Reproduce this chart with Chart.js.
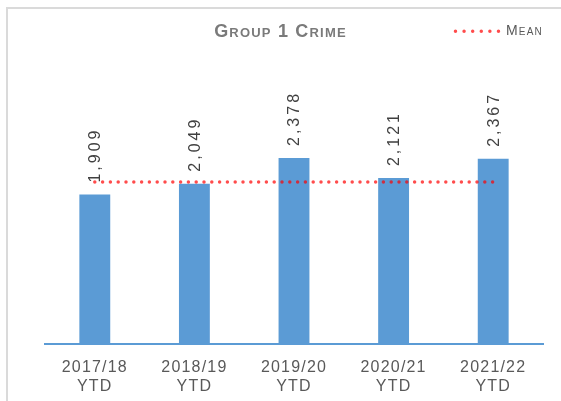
<!DOCTYPE html>
<html>
<head>
<meta charset="utf-8">
<script src="https://cdn.jsdelivr.net/npm/chart.js@4"></script>
<style>
  html, body { margin: 0; padding: 0; background: #fff; }
  #wrap { position: relative; width: 561px; height: 401px; overflow: hidden; }
  #frame {
    position: absolute; left: 6px; top: 7px; width: 600px; height: 500px;
    border-left: 2px solid #dadada; border-top: 2px solid #dadada;
  }
  #chartBox { position: absolute; left: 0; top: 0; width: 561px; height: 401px; }
</style>
</head>
<body>
<div id="wrap">
  <div id="frame"></div>
  <div id="chartBox"><canvas id="crimeChart"></canvas></div>
</div>
<script>
const years = [
  ["2017/18", "YTD"],
  ["2018/19", "YTD"],
  ["2019/20", "YTD"],
  ["2020/21", "YTD"],
  ["2021/22", "YTD"],
];
const crimeCounts = [1909, 2049, 2378, 2121, 2367];
const meanValues = [2072, 2072, 2072, 2072, 2072];

const FONT = "'Liberation Sans', Arial, sans-serif";
const barColor = "#5b9bd5";
const meanColor = "rgba(255, 0, 0, 0.7)";

// canvas letter spacing gets reset on resize, so set it before layout and draw
const spacing = {
  id: "spacing",
  beforeUpdate(chart) {
    chart.ctx.letterSpacing = "1.2px";
  },
  beforeDraw(chart) {
    chart.ctx.letterSpacing = "1.2px";
  },
};

const barLabels = {
  id: "barLabels",
  afterDatasetsDraw(chart) {
    const ctx = chart.ctx;
    const meta = chart.getDatasetMeta(0);
    ctx.save();
    ctx.font = "16px " + FONT;
    ctx.fillStyle = "#404040";
    ctx.letterSpacing = "3px";
    ctx.textAlign = "left";
    ctx.textBaseline = "middle";
    meta.data.forEach((bar, i) => {
      ctx.save();
      ctx.translate(bar.x + 1, bar.y - 12);
      ctx.rotate(-Math.PI / 2);
      ctx.fillText(crimeCounts[i].toLocaleString("en-GB"), 0, 0);
      ctx.restore();
    });
    ctx.restore();
  },
};

new Chart(document.querySelector("#crimeChart"), {
  data: {
    labels: years,
    datasets: [
      {
        type: "bar",
        label: "Group 1 Crime",
        data: crimeCounts,
        backgroundColor: barColor,
        categoryPercentage: 1,
        barPercentage: 0.31,
        order: 1,
      },
      {
        type: "line",
        label: "Mean",
        data: meanValues,
        borderColor: meanColor,
        borderWidth: 3.5,
        borderDash: [0, 7.8],
        borderCapStyle: "round",
        pointRadius: 0,
        fill: false,
        order: 0,
      },
    ],
  },
  options: {
    responsive: true,
    maintainAspectRatio: false,
    animation: false,
    layout: { padding: { bottom: -10 } },
    plugins: {
      title: {
        display: true,
        text: "Group 1 Crime",
        color: "#7a7a7a",
        font: { family: FONT, size: 18, weight: "small-caps bold" },
        padding: { top: 21, bottom: -18.4 },
      },
      legend: {
        position: "top",
        align: "end",
        fullSize: false,
        labels: {
          usePointStyle: true,
          pointStyleWidth: 43.5,
          boxHeight: 4,
          padding: 0,
          color: "#595959",
          font: { family: FONT, size: 14, weight: "small-caps normal" },
          generateLabels: () => [
            {
              text: "Mean",
              pointStyle: "line",
              strokeStyle: meanColor,
              fillStyle: meanColor,
              lineWidth: 3.5,
              lineDash: [0, 8.6],
              lineCap: "round",
              fontColor: "#595959",
              hidden: false,
              datasetIndex: 1,
            },
          ],
        },
      },
      tooltip: { enabled: false },
    },
    scales: {
      x: {
        grid: { display: false, drawTicks: false },
        border: { display: true, color: barColor, width: 2 },
        ticks: {
          color: "#595959",
          padding: 14.5,
          maxRotation: 0,
          font: { family: FONT, size: 16 },
        },
      },
      y: {
        min: 0,
        max: 3785,
        grid: { display: false },
        border: { display: false },
        ticks: { display: false },
        afterFit: (scale) => {
          scale.width = 45;
        },
      },
      yRight: {
        position: "right",
        grid: { display: false },
        border: { display: false },
        ticks: { display: false },
        afterFit: (scale) => {
          scale.width = 18;
        },
      },
    },
  },
  plugins: [spacing, barLabels],
});
</script>
</body>
</html>
